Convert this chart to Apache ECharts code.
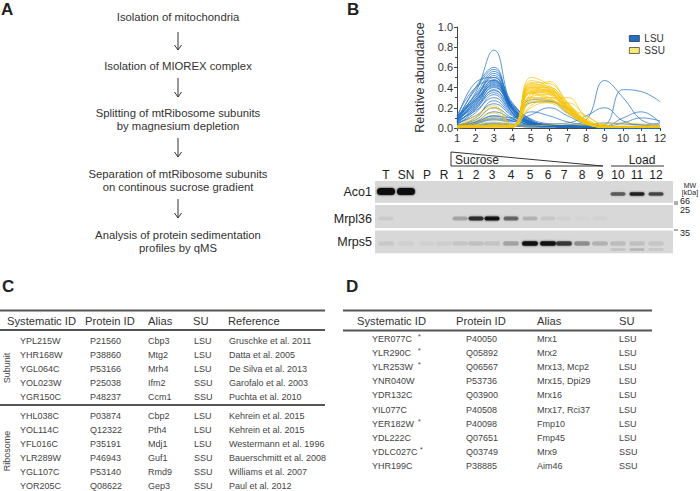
<!DOCTYPE html>
<html>
<head>
<meta charset="utf-8">
<script src="https://cdn.jsdelivr.net/npm/echarts@6/dist/echarts.min.js"></script>
<style>
html,body{margin:0;padding:0;background:#fff;}
#chart{width:700px;height:491px;}
</style>
</head>
<body>
<div id="chart"></div>
<script>
// ---------------- DATA ----------------
const fractions = [1,2,3,4,5,6,7,8,9,10,11,12];
const xTickLabels = ['1','2','3','4','5','6','7','8','9','10','11','12'];
const yTickLabels = ['0.0','0.2','0.4','0.6','0.8','1.0'];

// LSU (blue) sedimentation profiles, relative abundance per fraction 1..12
const lsuProfiles = [
  [0.10,0.35,0.77,0.20,0.04,0.02,0.01,0.01,0.01,0.00,0.00,0.00],
  [0.08,0.45,0.50,0.15,0.03,0.02,0.01,0.01,0.00,0.00,0.00,0.00],
  [0.06,0.40,0.60,0.18,0.05,0.02,0.01,0.01,0.01,0.01,0.00,0.00],
  [0.09,0.38,0.58,0.20,0.06,0.03,0.02,0.01,0.01,0.00,0.00,0.00],
  [0.07,0.33,0.56,0.22,0.05,0.02,0.01,0.01,0.00,0.00,0.00,0.00],
  [0.10,0.30,0.54,0.25,0.08,0.03,0.02,0.01,0.01,0.01,0.00,0.00],
  [0.05,0.28,0.52,0.20,0.05,0.02,0.01,0.01,0.00,0.00,0.00,0.00],
  [0.11,0.32,0.50,0.18,0.04,0.02,0.02,0.01,0.01,0.00,0.00,0.00],
  [0.08,0.26,0.48,0.22,0.07,0.03,0.02,0.01,0.00,0.00,0.00,0.00],
  [0.06,0.30,0.47,0.20,0.06,0.02,0.01,0.01,0.01,0.00,0.00,0.00],
  [0.09,0.25,0.46,0.24,0.08,0.03,0.02,0.02,0.01,0.00,0.00,0.00],
  [0.12,0.28,0.45,0.19,0.05,0.02,0.01,0.01,0.00,0.00,0.00,0.00],
  [0.04,0.22,0.44,0.21,0.06,0.03,0.02,0.01,0.01,0.00,0.00,0.00],
  [0.07,0.24,0.43,0.23,0.09,0.04,0.02,0.01,0.00,0.00,0.00,0.00],
  [0.10,0.27,0.42,0.18,0.04,0.02,0.01,0.01,0.01,0.00,0.00,0.00],
  [0.05,0.20,0.41,0.20,0.06,0.03,0.02,0.01,0.00,0.00,0.00,0.00],
  [0.08,0.23,0.40,0.22,0.07,0.03,0.02,0.02,0.01,0.00,0.00,0.00],
  [0.03,0.18,0.38,0.17,0.05,0.02,0.01,0.01,0.00,0.00,0.00,0.00],
  [0.09,0.21,0.37,0.19,0.06,0.03,0.02,0.01,0.01,0.00,0.00,0.00],
  [0.06,0.19,0.35,0.16,0.05,0.02,0.01,0.01,0.00,0.00,0.00,0.00],
  [0.04,0.15,0.33,0.15,0.04,0.02,0.02,0.01,0.01,0.00,0.00,0.00],
  [0.07,0.17,0.30,0.14,0.05,0.03,0.02,0.01,0.00,0.00,0.00,0.00],
  [0.02,0.10,0.27,0.13,0.04,0.02,0.01,0.01,0.00,0.00,0.00,0.00],
  [0.05,0.12,0.24,0.12,0.04,0.02,0.02,0.01,0.01,0.00,0.00,0.00],
  [0.03,0.08,0.20,0.10,0.03,0.02,0.01,0.01,0.00,0.00,0.00,0.00],
  [0.02,0.06,0.16,0.09,0.03,0.02,0.01,0.01,0.00,0.00,0.00,0.00],
  [0.01,0.05,0.12,0.07,0.02,0.01,0.01,0.01,0.00,0.00,0.00,0.00],
  [0.12,0.40,0.47,0.15,0.03,0.02,0.01,0.01,0.00,0.00,0.00,0.00],
  [0.02,0.05,0.10,0.08,0.28,0.27,0.15,0.05,0.02,0.01,0.01,0.01],
  [0.03,0.06,0.12,0.10,0.25,0.26,0.18,0.06,0.02,0.01,0.01,0.01],
  [0.01,0.04,0.08,0.06,0.16,0.12,0.06,0.03,0.01,0.01,0.01,0.01],
  [0.02,0.05,0.09,0.07,0.13,0.20,0.12,0.04,0.02,0.01,0.01,0.01],
  [0.01,0.02,0.04,0.03,0.02,0.02,0.03,0.08,0.47,0.30,0.08,0.03],
  [0.01,0.01,0.02,0.02,0.01,0.01,0.01,0.01,0.03,0.38,0.36,0.26],
  [0.02,0.03,0.05,0.04,0.03,0.04,0.05,0.12,0.20,0.07,0.03,0.02],
  [0.01,0.02,0.03,0.02,0.02,0.02,0.02,0.02,0.02,0.10,0.16,0.05],
  [0.01,0.01,0.02,0.02,0.01,0.01,0.02,0.02,0.02,0.05,0.10,0.07],
  [0.01,0.02,0.03,0.02,0.02,0.02,0.03,0.03,0.05,0.04,0.03,0.05]
];

// SSU (yellow) sedimentation profiles
const ssuProfiles = [
  [0.01,0.01,0.02,0.01,0.50,0.42,0.20,0.05,0.01,0.01,0.01,0.01],
  [0.02,0.02,0.03,0.02,0.47,0.40,0.22,0.06,0.01,0.01,0.01,0.01],
  [0.01,0.01,0.02,0.01,0.45,0.44,0.25,0.08,0.02,0.01,0.01,0.01],
  [0.00,0.01,0.02,0.02,0.44,0.38,0.18,0.04,0.01,0.01,0.01,0.01],
  [0.01,0.02,0.03,0.01,0.43,0.41,0.24,0.07,0.01,0.01,0.01,0.01],
  [0.02,0.01,0.02,0.02,0.42,0.39,0.21,0.06,0.01,0.01,0.01,0.01],
  [0.01,0.01,0.02,0.01,0.41,0.37,0.20,0.05,0.01,0.01,0.01,0.01],
  [0.00,0.01,0.01,0.01,0.40,0.40,0.23,0.07,0.01,0.01,0.01,0.01],
  [0.01,0.02,0.02,0.02,0.39,0.36,0.19,0.05,0.01,0.01,0.01,0.01],
  [0.02,0.01,0.02,0.01,0.38,0.38,0.22,0.06,0.01,0.01,0.01,0.01],
  [0.01,0.01,0.01,0.02,0.37,0.35,0.20,0.05,0.01,0.01,0.01,0.01],
  [0.01,0.02,0.02,0.01,0.36,0.37,0.21,0.06,0.01,0.01,0.01,0.01],
  [0.00,0.01,0.01,0.01,0.35,0.34,0.18,0.05,0.01,0.01,0.01,0.01],
  [0.01,0.01,0.02,0.02,0.33,0.36,0.22,0.07,0.01,0.01,0.01,0.01],
  [0.02,0.02,0.03,0.02,0.31,0.33,0.19,0.05,0.01,0.01,0.01,0.01],
  [0.01,0.01,0.02,0.01,0.28,0.30,0.20,0.06,0.01,0.01,0.01,0.01],
  [0.01,0.01,0.02,0.02,0.25,0.27,0.18,0.05,0.01,0.01,0.01,0.01],
  [0.00,0.01,0.01,0.01,0.22,0.28,0.16,0.05,0.01,0.01,0.01,0.01],
  [0.01,0.01,0.02,0.01,0.30,0.46,0.25,0.08,0.02,0.01,0.01,0.01],
  [0.01,0.01,0.02,0.02,0.35,0.30,0.30,0.10,0.02,0.01,0.01,0.01],
  [0.01,0.02,0.02,0.02,0.20,0.25,0.25,0.12,0.03,0.01,0.01,0.01],
  [0.01,0.01,0.02,0.01,0.30,0.28,0.20,0.12,0.03,0.02,0.02,0.02],
  [0.02,0.12,0.22,0.03,0.30,0.28,0.15,0.04,0.01,0.01,0.01,0.01],
  [0.01,0.10,0.20,0.02,0.26,0.25,0.14,0.04,0.01,0.01,0.01,0.01],
  [0.01,0.07,0.15,0.02,0.34,0.30,0.16,0.04,0.01,0.01,0.01,0.01],
  [0.00,0.05,0.10,0.01,0.36,0.33,0.17,0.05,0.01,0.01,0.01,0.01],
  [0.01,0.03,0.06,0.01,0.40,0.35,0.18,0.05,0.01,0.01,0.01,0.01],
  [0.01,0.01,0.02,0.02,0.02,0.03,0.04,0.03,0.04,0.05,0.04,0.03]
];

const legendNames = ['LSU','SSU'];
const yAxisTitle = 'Relative abundance';
const panelLetters = ['A','B','C','D'];

// Panel A workflow
const workflowSteps = [
  ['Isolation of mitochondria'],
  ['Isolation of MIOREX complex'],
  ['Splitting of mtRibosome subunits','by magnesium depletion'],
  ['Separation of mtRibosome subunits','on continous sucrose gradient'],
  ['Analysis of protein sedimentation','profiles by qMS']
];

// Panel B western blot
const blotLanes = ['T','SN','P','R','1','2','3','4','5','6','7','8','9','10','11','12'];
const blotRows = ['Aco1','Mrpl36','Mrps5'];
const aco1Bands   = [1.00,1.00,0,0,0,0,0,0,0,0,0,0,0,0.55,0.85,0.65];
const mrpl36Bands = [0.06,0,0,0,0.22,0.75,0.95,0.50,0.16,0.07,0.04,0.02,0.03,0,0,0];
const mrps5Bands  = [0.07,0.04,0.03,0.05,0.08,0.10,0.09,0.22,0.95,0.95,0.70,0.30,0.16,0.12,0.10,0.08];
const mrps5Lower  = [0,0,0,0,0,0,0,0,0,0,0,0,0,0.10,0.16,0.08];
const mwMarkers = ['66','25','35'];
const gradientLabels = ['Sucrose','Load'];

// Panel C table
const tableCHeader = ['Systematic ID','Protein ID','Alias','SU','Reference'];
const tableCGroups = ['Subunit','Ribosome'];
const tableCSubunit = [
  ['YPL215W','P21560','Cbp3','LSU','Gruschke et al. 2011'],
  ['YHR168W','P38860','Mtg2','LSU','Datta et al. 2005'],
  ['YGL064C','P53166','Mrh4','LSU','De Silva et al. 2013'],
  ['YOL023W','P25038','Ifm2','SSU','Garofalo et al. 2003'],
  ['YGR150C','P48237','Ccm1','SSU','Puchta et al. 2010']
];
const tableCRibosome = [
  ['YHL038C','P03874','Cbp2','LSU','Kehrein et al. 2015'],
  ['YOL114C','Q12322','Pth4','LSU','Kehrein et al. 2015'],
  ['YFL016C','P35191','Mdj1','LSU','Westermann et al. 1996'],
  ['YLR289W','P46943','Guf1','SSU','Bauerschmitt et al. 2008'],
  ['YGL107C','P53140','Rmd9','SSU','Williams et al. 2007'],
  ['YOR205C','Q08622','Gep3','SSU','Paul et al. 2012']
];

// Panel D table
const tableDHeader = ['Systematic ID','Protein ID','Alias','SU'];
const tableDRows = [
  ['YER077C','*','P40050','Mrx1','LSU'],
  ['YLR290C','*','Q05892','Mrx2','LSU'],
  ['YLR253W','*','Q06567','Mrx13, Mcp2','LSU'],
  ['YNR040W','','P53736','Mrx15, Dpi29','LSU'],
  ['YDR132C','','Q03900','Mrx16','LSU'],
  ['YIL077C','','P40508','Mrx17, Rci37','LSU'],
  ['YER182W','*','P40098','Fmp10','LSU'],
  ['YDL222C','','Q07651','Fmp45','LSU'],
  ['YDLC027C','*','Q03749','Mrx9','SSU'],
  ['YHR199C','','P38885','Aim46','SSU']
];

// ---------------- STYLE / LAYOUT ----------------
const FONT = '"Liberation Sans", Arial, Helvetica, sans-serif';
const BLUE = '#1f6fc6';
const YELLOW = '#f6c40c';
const TXT = '#333';

const G = [];
function txt(x, y, s, size, opts) {
  opts = opts || {};
  G.push({
    type: 'text', x: x, y: y, rotation: opts.rot || 0, silent: true, z: 10,
    style: {
      text: s, font: (opts.bold ? 'bold ' : '') + size + 'px ' + FONT,
      fill: opts.color || TXT, align: opts.align || 'left', verticalAlign: 'middle'
    }
  });
}
function line(x1, y1, x2, y2, w, c) {
  G.push({ type: 'line', silent: true, z: 10, shape: {x1, y1, x2, y2},
    style: { stroke: c || '#333', lineWidth: w || 1 } });
}
function poly(points, w, c) {
  G.push({ type: 'polyline', silent: true, z: 10, shape: {points},
    style: { stroke: c, lineWidth: w, fill: 'none' } });
}

// Panel letters
const letterPos = [[1, 9], [347, 9], [2, 286], [346, 286]];
panelLetters.forEach((l, i) => txt(letterPos[i][0], letterPos[i][1], l, 17, {bold: true, color: '#222'}));

// Panel A
const stepY = [[17.3], [65.7], [112.7, 126], [174, 186.7], [235, 248]];
const arrowY = [[32, 50], [78, 97], [138, 157], [199, 218]];
workflowSteps.forEach((lines, i) => lines.forEach((s, j) => txt(178, stepY[i][j], s, 11.3, {align: 'center'})));
arrowY.forEach(a => {
  line(178, a[0], 178, a[1], 1, '#333');
  poly([[174.5, a[1] - 5], [178, a[1]], [181.5, a[1] - 5]], 1, '#333');
});

// Panel B blot
const laneX = [386, 406, 427, 444, 460, 476, 492, 511, 530, 548, 564, 582, 600, 618, 637, 656];
blotLanes.forEach((l, i) => txt(laneX[i], 174.5, l, 12, {align: 'center', color: '#222'}));
// Sucrose triangle & Load line
poly([[451, 152], [603, 166], [451, 166], [451, 152]], 1, '#333');
txt(455, 159.5, gradientLabels[0], 12, {color: '#222'});
line(611, 166, 664, 166, 1, '#333');
txt(642, 159.5, gradientLabels[1], 12, {align: 'center', color: '#222'});
// panels
const panelTop = [181, 205, 230.5];
const panelH = [21.8, 23, 22.8];
panelTop.forEach((t, i) => {
  G.push({ type: 'rect', silent: true, z: 5, shape: {x: 375, y: t, width: 298, height: panelH[i]},
    style: { fill: '#d8d8d8' } });
});
const rowLabelY = [192, 218.5, 241.5];
blotRows.forEach((r, i) => txt(372, rowLabelY[i], r, 12.5, {align: 'right', color: '#222'}));
function bands(arr, cy, h, wBase) {
  arr.forEach((a, i) => {
    if (!a) return;
    const w = (i < 2 && h > 5) ? 18 : wBase;
    G.push({ type: 'rect', silent: true, z: 6,
      shape: {x: laneX[i] - w / 2, y: cy - h / 2, width: w, height: h, r: h / 2},
      style: { fill: 'rgba(15,15,15,' + a + ')', shadowBlur: 2, shadowColor: 'rgba(15,15,15,' + (a * 0.8) + ')' } });
  });
}
bands(aco1Bands.map((v, i) => i < 2 ? v : 0), 191.5, 7, 16);
bands(aco1Bands.map((v, i) => i < 2 ? 0 : v), 194, 3.5, 15);
bands(mrpl36Bands, 218.5, 4, 15);
bands(mrps5Bands, 243.5, 4.5, 16);
bands(mrps5Lower, 249.5, 2.5, 15);
// MW markers
txt(690, 185, 'MW', 7, {align: 'center', color: '#222'});
txt(690, 192, '[kDa]', 7, {align: 'center', color: '#222'});
line(674, 202, 678, 202, 0.8, '#333');
line(674, 204, 678, 204, 0.8, '#333');
line(674, 230, 678, 230, 0.8, '#333');
txt(680, 200.5, mwMarkers[0], 9, {color: '#222'});
txt(680, 209.5, mwMarkers[1], 9, {color: '#222'});
txt(680, 233, mwMarkers[2], 9, {color: '#222'});

// Panel C table
const cHeadX = [7, 85, 148, 193, 228];
const cRowX = [20, 90, 148, 194, 229];
line(0, 310.5, 325, 310.5, 1.8, '#555');
tableCHeader.forEach((h, i) => txt(cHeadX[i], 320.5, h, 11.2, {color: '#333'}));
line(0, 330, 325, 330, 1.8, '#555');
const cSubY = [340.5, 354.7, 368.8, 383, 396.8];
const cRibY = [415.7, 429.7, 443.7, 457.7, 471.7, 485.7];
tableCSubunit.forEach((r, j) => r.forEach((c, i) => txt(cRowX[i], cSubY[j], c, 9, {color: '#444'})));
line(0, 405, 325, 405, 1.8, '#555');
tableCRibosome.forEach((r, j) => r.forEach((c, i) => txt(cRowX[i], cRibY[j], c, 9, {color: '#444'})));
txt(7, 368, tableCGroups[0], 9, {align: 'center', rot: Math.PI / 2, color: '#444'});
txt(7, 451, tableCGroups[1], 9, {align: 'center', rot: Math.PI / 2, color: '#444'});

// Panel D table
const dHeadX = [357, 456, 537, 619];
const dRowX = [372, 418, 466, 537, 619];
line(343, 310.5, 652, 310.5, 1.8, '#555');
tableDHeader.forEach((h, i) => txt(dHeadX[i], 320.5, h, 11.2, {color: '#333'}));
line(343, 330.5, 652, 330.5, 1.8, '#555');
tableDRows.forEach((r, j) => {
  const y = 339.3 + j * 14.04;
  r.forEach((c, i) => {
    if (!c) return;
    if (i === 1) txt(r[0].length > 7 ? 420 : 418, y - 2.5, c, 7, {color: '#444'});
    else txt(dRowX[i], y, c, 9, {color: '#444'});
  });
});

// ---------------- CHART ----------------
const series = [];
lsuProfiles.forEach(p => series.push({
  type: 'line', name: legendNames[0], smooth: 0.45, symbol: 'none', silent: true,
  data: fractions.map((f, i) => [f, p[i]]),
  lineStyle: {width: 0.8, color: BLUE, opacity: 0.9}, itemStyle: {color: BLUE}, z: 2
}));
ssuProfiles.forEach(p => series.push({
  type: 'line', name: legendNames[1], smooth: 0.45, symbol: 'none', silent: true,
  data: fractions.map((f, i) => [f, p[i]]),
  lineStyle: {width: 0.8, color: YELLOW, opacity: 0.9}, itemStyle: {color: YELLOW}, z: 3
}));

const chart = echarts.init(document.getElementById('chart'), null, {renderer: 'svg'});
chart.setOption({
  backgroundColor: '#fff',
  animation: false,
  grid: {left: 457, right: 40, top: 27, bottom: 363, containLabel: false},
  legend: {
    orient: 'vertical', left: 629, top: 33, padding: 0, itemGap: 1,
    itemWidth: 10, itemHeight: 6, icon: 'rect',
    textStyle: {fontFamily: FONT, fontSize: 10, color: '#333', lineHeight: 11},
    data: [
      {name: legendNames[0], icon: 'rect', itemStyle: {color: BLUE, borderColor: '#223', borderWidth: 0.7}},
      {name: legendNames[1], icon: 'rect', itemStyle: {color: '#f8ea7a', borderColor: '#332', borderWidth: 0.7}}
    ],
    selectedMode: false
  },
  xAxis: {
    type: 'value', min: 1, max: 12, interval: 1,
    axisLine: {show: true, onZero: false, lineStyle: {color: '#444', width: 1}},
    axisTick: {show: true, length: 3, lineStyle: {color: '#444'}},
    axisLabel: {fontFamily: FONT, fontSize: 11, color: '#333', margin: 4,
      formatter: v => xTickLabels[fractions.indexOf(v)] || ''},
    splitLine: {show: false}
  },
  yAxis: {
    type: 'value', min: 0, max: 1, interval: 0.2,
    name: yAxisTitle, nameLocation: 'middle', nameGap: 31,
    nameTextStyle: {fontFamily: FONT, fontSize: 12.5, color: '#333'},
    axisLine: {show: true, lineStyle: {color: '#444', width: 1}},
    axisTick: {show: true, length: 3, lineStyle: {color: '#444'}},
    minorTick: {show: true, splitNumber: 2, length: 2, lineStyle: {color: '#444'}},
    axisLabel: {fontFamily: FONT, fontSize: 11, color: '#333', margin: 4,
      formatter: v => yTickLabels[Math.round(v / 0.2)] || ''},
    splitLine: {show: false}
  },
  series: series,
  graphic: {elements: G}
});
</script>
</body>
</html>
